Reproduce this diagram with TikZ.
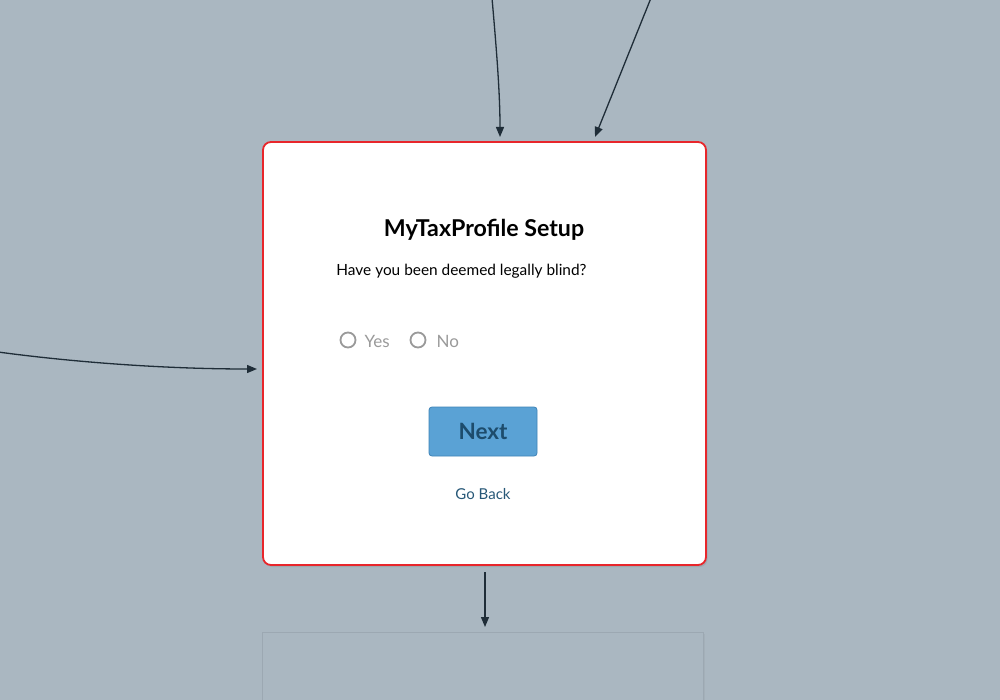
\documentclass[tikz,border=0pt]{standalone}
\usepackage{fontspec}
\setmainfont{Lato}
\usepackage{tikz}
\usetikzlibrary{arrows.meta}
\usetikzlibrary{shadows}

\definecolor{canvas}{HTML}{AAB7C1}
\definecolor{edge}{HTML}{1F2D38}
\definecolor{alert}{HTML}{E8262B}
\definecolor{btnfill}{HTML}{5AA2D5}
\definecolor{btnline}{HTML}{3E83B7}
\definecolor{btntext}{HTML}{1D4C6C}
\definecolor{linktext}{HTML}{265777}
\definecolor{radio}{HTML}{9A9A9A}

\tikzset{
	flow/.style={draw=edge, line width=1.3pt, -{Triangle[length=10pt, width=8pt]}},
	screen/.style={draw=alert, line width=1.8pt, fill=white, rounded corners=8pt,
		drop shadow={shadow xshift=1.5pt, shadow yshift=-2pt, opacity=.25}},
	nextscreen/.style={draw=black!8!canvas, line width=.6pt, fill=canvas,
		drop shadow={shadow xshift=1.5pt, shadow yshift=-1.5pt, opacity=.12}},
	radiobtn/.style={draw=radio, line width=1.8pt, circle, minimum size=15pt, inner sep=0pt},
}

\begin{document}
\begin{tikzpicture}[x=1pt, y=-1pt]
		% draw canvas
		\fill [canvas] (0, 0) rectangle (1000, 700);
		\useasboundingbox (0, 0) rectangle (1000, 700);
		% draw next screen
		\fill [nextscreen] (262, 632) rectangle (703, 712);
		% draw screen
		\draw [screen] (263, 142) rectangle (706, 565);
		\coordinate (top1) at (500, 137);
		\coordinate (top2) at (595, 137);
		\coordinate (left) at (257, 369);
		\coordinate (bottom) at (485, 572);
		\coordinate (below) at (485, 627);
		% draw texts
		\node (title) at (484, 229.5) {\fontsize{23.2}{27}\selectfont\bfseries MyTaxProfile Setup};
		\node (question) at (461.5, 271.5) {\fontsize{15.4}{18}\selectfont Have you been deemed legally blind?};
		% draw radio buttons
		\node [radiobtn] (yes) at (348, 340) {};
		\node [right, text=radio, inner sep=0pt] (yeslabel) at (364.5, 341) {\fontsize{17}{20}\selectfont Yes};
		\node [radiobtn] (no) at (418, 340) {};
		\node [right, text=radio, inner sep=0pt] (nolabel) at (436.5, 341) {\fontsize{17}{20}\selectfont No};
		% draw button
		\node [draw=btnline, fill=btnfill, line width=.8pt, rounded corners=3pt,
			minimum width=108pt, minimum height=49pt, text=btntext] (next) at (483, 431.5)
			{\fontsize{22.5}{26}\selectfont\bfseries Next};
		\node [text=linktext] (back) at (483, 494) {\fontsize{15}{18}\selectfont Go Back};
		% draw incoming edges
		\draw [flow] (492, -2) .. controls (497, 55) and (500, 95) .. (top1);
		\draw [flow] (651, -2) .. controls (632, 45) and (612, 95) .. (top2);
		\draw [flow] (-2, 352) .. controls (80, 363) and (170, 369) .. (left);
		% draw outgoing edge
		\draw [flow] (bottom) -- (below);
	\end{tikzpicture}
\end{document}
